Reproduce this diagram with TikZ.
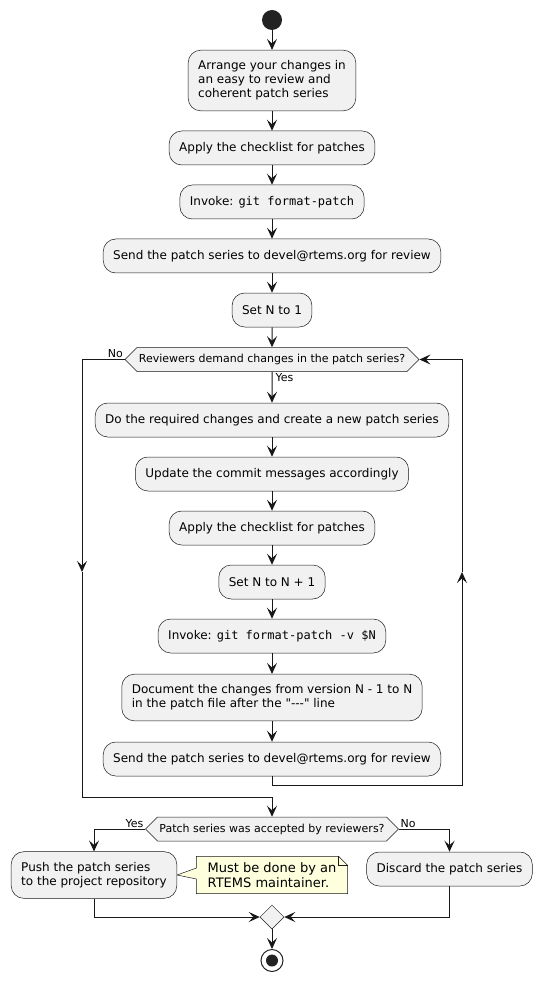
\documentclass[tikz,border=0pt]{standalone}
\usepackage{fontspec}
\setmainfont{DejaVu Sans}[Ligatures=TeXOff]
\setmonofont{DejaVu Sans Mono}
\usepackage{xcolor}
\usepackage{tikz}
\usetikzlibrary{arrows.meta,shapes.geometric,shapes.symbols,backgrounds}
\definecolor{boxfill}{HTML}{F1F1F1}
\definecolor{edgecol}{HTML}{181818}
\definecolor{notefill}{HTML}{FEFFDD}
\definecolor{dotcol}{HTML}{222222}
\tikzset{
  action/.style={draw=edgecol,line width=0.5pt,fill=boxfill,rounded corners=12.5pt,
    align=left,inner xsep=10pt,inner ysep=10.5pt,minimum height=34pt,
    font=\fontsize{12}{14}\selectfont},
  choice/.style={signal,signal to=east and west,draw=edgecol,line width=0.5pt,
    fill=boxfill,inner xsep=2pt,inner ysep=0pt,minimum height=24pt,
    font=\fontsize{11}{13}\selectfont},
  flow/.style={->,line width=1pt,draw=edgecol},
  lbl/.style={font=\fontsize{11}{13}\selectfont,inner sep=1.5pt},
  notetext/.style={align=left,inner xsep=11pt,inner ysep=6pt,
    font=\fontsize{13}{15}\selectfont},
  notebox/.style={draw=edgecol,line width=0.5pt,fill=notefill,line join=miter}
}

\begin{document}
\begin{tikzpicture}[x=1pt,y=-1pt,>={Stealth[length=11pt,width=10pt,inset=4.5pt]}]
  \useasboundingbox (0,0) rectangle (542,981);
  % main column
  \node[circle,fill=dotcol,minimum size=20pt,inner sep=0pt] (start) at (272,20) {};
  \node[action] (arrange) at (272,80.5) {Arrange your changes in\\an easy to review and\\coherent patch series};
  \node[action] (check1) at (272,148) {Apply the checklist for patches};
  \node[action] (fmt1) at (272,202) {Invoke: \texttt{git format-patch}};
  \node[action] (send1) at (272,256) {Send the patch series to devel@rtems.org for review};
  \node[action] (nset) at (272,310) {Set N to 1};
  \node[choice] (review) at (272,359.5) {Reviewers demand changes in the patch series?};
  % loop body
  \node[action] (redo) at (272,420) {Do the required changes and create a new patch series};
  \node[action] (commit) at (272,474) {Update the commit messages accordingly};
  \node[action] (check2) at (272,528) {Apply the checklist for patches};
  \node[action] (ninc) at (272,582) {Set N to N + 1};
  \node[action] (fmt2) at (272,636) {Invoke: \texttt{git format-patch -v \$N}};
  \node[action] (doc) at (272,697.5) {Document the changes from version N - 1 to N\\in the patch file after the "---" line};
  \node[action] (send2) at (272,759) {Send the patch series to devel@rtems.org for review};
  % end of the review
  \node[choice] (accept) at (272,829) {Patch series was accepted by reviewers?};
  \node[action] (push) at (94,875) {Push the patch series\\to the project repository};
  \node[notetext] (note) at (272,875) {Must be done by an\\RTEMS maintainer.};
  \node[action] (discard) at (449.5,869) {Discard the patch series};
  \node[diamond,draw=edgecol,line width=0.5pt,fill=boxfill,minimum width=24pt,
    minimum height=24pt,inner sep=0pt] (merge) at (272,917) {};
  \node[circle,draw=dotcol,line width=1pt,minimum size=22pt,inner sep=0pt,
    path picture={\fill[dotcol] (path picture bounding box.center) circle (6pt);}] (stop) at (272,960.5) {};

  \coordinate (noA) at (82,572);
  \coordinate (noB) at (82,797);
  \coordinate (backA) at (462,785);
  \coordinate (backB) at (462,572);

  \draw[flow] (start) -- (arrange);
  \draw[flow] (arrange) -- (check1);
  \draw[flow] (check1) -- (fmt1);
  \draw[flow] (fmt1) -- (send1);
  \draw[flow] (send1) -- (nset);
  \draw[flow] (nset) -- (review);
  \draw[flow] (review) -- (redo);
  \draw[flow] (redo) -- (commit);
  \draw[flow] (commit) -- (check2);
  \draw[flow] (check2) -- (ninc);
  \draw[flow] (ninc) -- (fmt2);
  \draw[flow] (fmt2) -- (doc);
  \draw[flow] (doc) -- (send2);
  \draw[flow] (send2.south) |- (backA) -- (backB);
  \draw[flow] (backB) |- (review.east);
  \draw[flow] (review.west) -| (noA);
  \draw[flow] (noA) -- (noB) -| (accept.north);
  \node[lbl,anchor=south east] at (review.west) {No};
  \node[lbl,anchor=north west,xshift=2pt] at (review.south) {Yes};

  \draw[flow] (accept.west) -| (push.north);
  \draw[flow] (accept.east) -| (discard.north);
  \node[lbl,anchor=south east] at (accept.west) {Yes};
  \node[lbl,anchor=south west] at (accept.east) {No};
  \draw[flow] (push.south) |- (merge.west);
  \draw[flow] (discard.south) |- (merge.east);
  \draw[flow] (merge) -- (stop);

  % the note with its pointer
  \begin{scope}[on background layer]
    \draw[notebox] (note.north west) -- ([xshift=-9pt]note.north east)
      -- ([yshift=-9pt]note.north east) -- (note.south east) -- (note.south west)
      -- ([yshift=-4pt]note.west) -- (push.east) -- ([yshift=7pt]note.west) -- cycle;
    \draw[notebox,fill=none] ([xshift=-9pt]note.north east) |- ([yshift=-9pt]note.north east);
  \end{scope}
\end{tikzpicture}
\end{document}
